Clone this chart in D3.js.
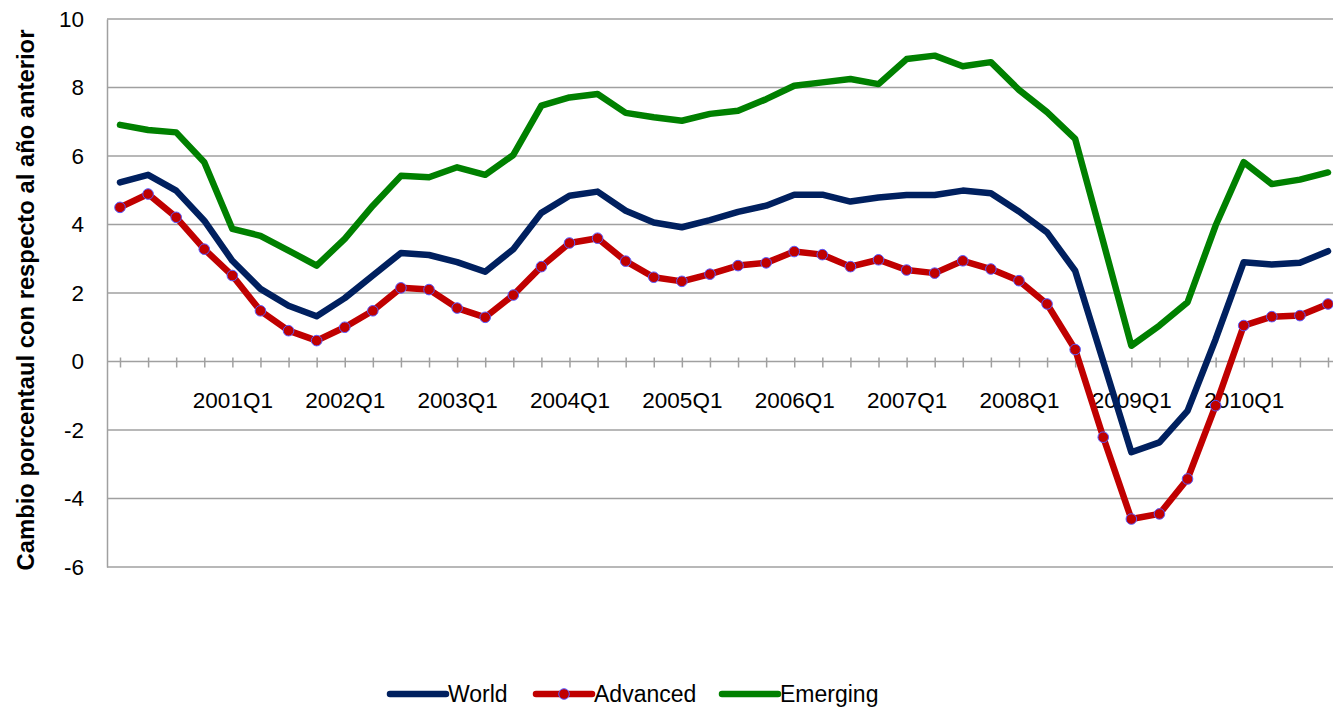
<!DOCTYPE html>
<html>
<head>
<meta charset="utf-8">
<script src="https://cdn.jsdelivr.net/npm/d3@7"></script>
<style>
  html, body { margin: 0; padding: 0; background: #fff; }
  svg { display: block; font-family: "Liberation Sans", Arial, sans-serif; }
</style>
</head>
<body>
<svg id="chart" width="1333" height="709"></svg>
<script>
// Quarterly categories, 2000Q1 - 2010Q4
const quarters = [
  "2000Q1","2000Q2","2000Q3","2000Q4",
  "2001Q1","2001Q2","2001Q3","2001Q4",
  "2002Q1","2002Q2","2002Q3","2002Q4",
  "2003Q1","2003Q2","2003Q3","2003Q4",
  "2004Q1","2004Q2","2004Q3","2004Q4",
  "2005Q1","2005Q2","2005Q3","2005Q4",
  "2006Q1","2006Q2","2006Q3","2006Q4",
  "2007Q1","2007Q2","2007Q3","2007Q4",
  "2008Q1","2008Q2","2008Q3","2008Q4",
  "2009Q1","2009Q2","2009Q3","2009Q4",
  "2010Q1","2010Q2","2010Q3","2010Q4"
];

// Category labels printed under the axis
const xTickLabels = ["2001Q1","2002Q1","2003Q1","2004Q1","2005Q1","2006Q1","2007Q1","2008Q1","2009Q1","2010Q1"];

// Year-on-year growth, percent
const world = [
  5.23, 5.45, 4.99, 4.11, 2.94, 2.12, 1.63, 1.32, 1.85, 2.51, 3.17,
  3.11, 2.90, 2.62, 3.28, 4.34, 4.84, 4.96, 4.40, 4.06, 3.92, 4.13,
  4.37, 4.55, 4.87, 4.87, 4.67, 4.79, 4.86, 4.86, 4.99, 4.91, 4.38,
  3.77, 2.65, 0.00, -2.65, -2.36, -1.44, 0.65, 2.90, 2.83, 2.88, 3.22
];
const advanced = [
  4.50, 4.89, 4.21, 3.28, 2.51, 1.48, 0.90, 0.61, 1.00, 1.48, 2.15,
  2.10, 1.56, 1.29, 1.94, 2.77, 3.46, 3.60, 2.93, 2.46, 2.34, 2.55,
  2.80, 2.88, 3.21, 3.12, 2.77, 2.97, 2.67, 2.58, 2.94, 2.70, 2.36,
  1.68, 0.35, -2.21, -4.60, -4.45, -3.43, -1.29, 1.05, 1.31, 1.34, 1.68
];
const emerging = [
  6.91, 6.76, 6.69, 5.82, 3.87, 3.67, 3.24, 2.80, 3.58, 4.55, 5.42,
  5.38, 5.67, 5.45, 6.03, 7.47, 7.71, 7.81, 7.26, 7.13, 7.03, 7.23,
  7.32, 7.66, 8.05, 8.15, 8.25, 8.10, 8.83, 8.93, 8.62, 8.74, 7.93,
  7.28, 6.50, 3.49, 0.46, 1.05, 1.73, 3.97, 5.82, 5.18, 5.31, 5.52
];

const yTicks = [-6, -4, -2, 0, 2, 4, 6, 8, 10];

const seriesNames = ["World", "Advanced", "Emerging"];
const seriesColors = ["#00205f", "#c00000", "#008000"];

const svg = d3.select("#chart");
const plotLeft = 107, plotRight = 1333;
const fontFamily = "'Liberation Sans', Arial, sans-serif";

const x = d3.scalePoint().domain(quarters).range([120, 1328]);
const y = d3.scaleLinear().domain([-6, 10]).range([567, 19]);

const gridColor = "#a0a0a0";

// Horizontal gridlines
svg.append("g")
  .selectAll("line")
  .data(yTicks.filter(v => v !== 0))
  .join("line")
  .attr("x1", plotLeft).attr("x2", plotRight)
  .attr("y1", d => y(d)).attr("y2", d => y(d))
  .attr("stroke", gridColor).attr("stroke-width", 1.5);

// Value axis (line + labels, no tick marks)
const yAxis = svg.append("g")
  .attr("transform", `translate(${plotLeft},0)`)
  .call(d3.axisLeft(y).tickValues(yTicks).tickSize(0).tickPadding(23).tickFormat(d => String(d)));
yAxis.select(".domain").attr("stroke", gridColor).attr("stroke-width", 1.5);
yAxis.selectAll("text")
  .attr("font-size", 22.5).attr("fill", "#000")
  .attr("font-family", fontFamily);

// Category axis crossing at zero
const xAxis = svg.append("g")
  .attr("transform", `translate(0,${y(0)})`)
  .call(d3.axisBottom(x).tickSize(5)
    .tickFormat(d => xTickLabels.includes(d) ? d : ""));
xAxis.select(".domain").remove();
xAxis.insert("line", ":first-child")
  .attr("x1", plotLeft).attr("x2", plotRight)
  .attr("stroke", gridColor).attr("stroke-width", 1.5);
xAxis.selectAll(".tick line")
  .attr("y1", -4).attr("y2", 6)
  .attr("stroke", gridColor).attr("stroke-width", 1.5);
xAxis.selectAll(".tick text")
  .attr("y", 46).attr("dy", 0)
  .attr("font-size", 22.5).attr("fill", "#000")
  .attr("font-family", fontFamily);

// Axis title
svg.append("text")
  .attr("transform", "translate(34,300) rotate(-90)")
  .attr("text-anchor", "middle")
  .attr("font-size", 23.8).attr("font-weight", "bold")
  .text("Cambio porcentaul con respecto al año anterior");

// Series lines
const line = d3.line()
  .x((d, i) => x(quarters[i]))
  .y(d => y(d));

const allSeries = [world, advanced, emerging];
svg.append("g")
  .selectAll("path")
  .data(allSeries)
  .join("path")
  .attr("d", d => line(d))
  .attr("fill", "none")
  .attr("stroke", (d, i) => seriesColors[i])
  .attr("stroke-width", 6.5)
  .attr("stroke-linejoin", "round")
  .attr("stroke-linecap", "round");

// Markers on the Advanced series
svg.append("g")
  .selectAll("circle")
  .data(advanced)
  .join("circle")
  .attr("cx", (d, i) => x(quarters[i]))
  .attr("cy", d => y(d))
  .attr("r", 5.3)
  .attr("fill", "#c00000")
  .attr("stroke", "#5a5aff")
  .attr("stroke-width", 1);

// Legend
const legendItems = [
  { name: seriesNames[0], color: seriesColors[0], x: 390, marker: false },
  { name: seriesNames[1], color: seriesColors[1], x: 536, marker: true },
  { name: seriesNames[2], color: seriesColors[2], x: 722, marker: false }
];
const legendY = 694;
const lg = svg.append("g").selectAll("g").data(legendItems).join("g")
  .attr("transform", d => `translate(${d.x},${legendY})`);
lg.append("line")
  .attr("x1", 0).attr("x2", 56)
  .attr("stroke", d => d.color).attr("stroke-width", 6.5)
  .attr("stroke-linecap", "round");
lg.filter(d => d.marker).append("circle")
  .attr("cx", 28).attr("r", 5.3)
  .attr("fill", "#c00000").attr("stroke", "#5a5aff").attr("stroke-width", 1);
lg.append("text")
  .attr("x", 58).attr("dy", "0.35em")
  .attr("font-size", 23)
  .text(d => d.name);
</script>
</body>
</html>
